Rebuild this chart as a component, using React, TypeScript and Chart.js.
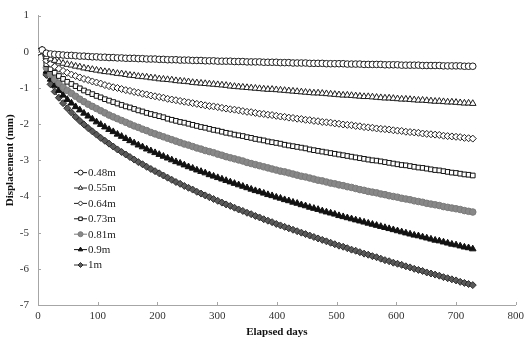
import React, { useEffect, useRef } from 'react';
import { Chart, registerables } from 'chart.js';
import { drawPoint } from 'chart.js/helpers';

Chart.register(...registerables);

const days = [0, 7, 14, 21, 28, 35, 42, 49, 56, 63, 70, 77, 84, 91, 98, 105, 112, 119, 126, 133, 140, 147, 154, 161, 168, 175, 182, 189, 196, 203, 210, 217, 224, 231, 238, 245, 252, 259, 266, 273, 280, 287, 294, 301, 308, 315, 322, 329, 336, 343, 350, 357, 364, 371, 378, 385, 392, 399, 406, 413, 420, 427, 434, 441, 448, 455, 462, 469, 476, 483, 490, 497, 504, 511, 518, 525, 532, 539, 546, 553, 560, 567, 574, 581, 588, 595, 602, 609, 616, 623, 630, 637, 644, 651, 658, 665, 672, 679, 686, 693, 700, 707, 714, 721, 728];

const d048 = [0, 0.05,
  -0.04, -0.06, -0.07, -0.08, -0.09, -0.10, -0.10, -0.11, -0.12, -0.12,
  -0.13, -0.14, -0.14, -0.15, -0.15, -0.16, -0.16, -0.17, -0.17, -0.18,
  -0.18, -0.18, -0.19, -0.19, -0.20, -0.20, -0.20, -0.21, -0.21, -0.22,
  -0.22, -0.22, -0.23, -0.23, -0.23, -0.24, -0.24, -0.24, -0.25, -0.25,
  -0.25, -0.26, -0.26, -0.26, -0.26, -0.27, -0.27, -0.27, -0.28, -0.28,
  -0.28, -0.28, -0.29, -0.29, -0.29, -0.29, -0.30, -0.30, -0.30, -0.31,
  -0.31, -0.31, -0.31, -0.32, -0.32, -0.32, -0.32, -0.33, -0.33, -0.33,
  -0.33, -0.33, -0.34, -0.34, -0.34, -0.34, -0.35, -0.35, -0.35, -0.35,
  -0.35, -0.36, -0.36, -0.36, -0.36, -0.37, -0.37, -0.37, -0.37, -0.37,
  -0.38, -0.38, -0.38, -0.38, -0.38, -0.39, -0.39, -0.39, -0.39, -0.39,
  -0.40, -0.40, -0.40];
const d055 = [0, 0.05,
  -0.14, -0.20, -0.24, -0.28, -0.32, -0.35, -0.37, -0.40, -0.42, -0.45,
  -0.47, -0.49, -0.51, -0.53, -0.55, -0.56, -0.58, -0.60, -0.61, -0.63,
  -0.65, -0.66, -0.68, -0.69, -0.70, -0.72, -0.73, -0.75, -0.76, -0.77,
  -0.78, -0.80, -0.81, -0.82, -0.83, -0.85, -0.86, -0.87, -0.88, -0.89,
  -0.90, -0.91, -0.92, -0.93, -0.95, -0.96, -0.97, -0.98, -0.99, -1.00,
  -1.01, -1.02, -1.03, -1.04, -1.04, -1.05, -1.06, -1.07, -1.08, -1.09,
  -1.10, -1.11, -1.12, -1.13, -1.14, -1.14, -1.15, -1.16, -1.17, -1.18,
  -1.19, -1.20, -1.20, -1.21, -1.22, -1.23, -1.24, -1.24, -1.25, -1.26,
  -1.27, -1.28, -1.28, -1.29, -1.30, -1.31, -1.31, -1.32, -1.33, -1.34,
  -1.34, -1.35, -1.36, -1.37, -1.37, -1.38, -1.39, -1.39, -1.40, -1.41,
  -1.42, -1.42, -1.43];
const d064 = [0, 0.05,
  -0.24, -0.33, -0.41, -0.47, -0.53, -0.58, -0.63, -0.67, -0.71, -0.75,
  -0.78, -0.82, -0.85, -0.88, -0.92, -0.95, -0.98, -1.00, -1.03, -1.06,
  -1.08, -1.11, -1.13, -1.16, -1.18, -1.21, -1.23, -1.25, -1.27, -1.30,
  -1.32, -1.34, -1.36, -1.38, -1.40, -1.42, -1.44, -1.46, -1.48, -1.50,
  -1.51, -1.53, -1.55, -1.57, -1.59, -1.60, -1.62, -1.64, -1.66, -1.67,
  -1.69, -1.71, -1.72, -1.74, -1.75, -1.77, -1.79, -1.80, -1.82, -1.83,
  -1.85, -1.86, -1.88, -1.89, -1.91, -1.92, -1.94, -1.95, -1.96, -1.98,
  -1.99, -2.01, -2.02, -2.03, -2.05, -2.06, -2.08, -2.09, -2.10, -2.12,
  -2.13, -2.14, -2.15, -2.17, -2.18, -2.19, -2.21, -2.22, -2.23, -2.24,
  -2.26, -2.27, -2.28, -2.29, -2.30, -2.32, -2.33, -2.34, -2.35, -2.36,
  -2.38, -2.39, -2.40];
const d073 = [0, 0.04,
  -0.34, -0.48, -0.58, -0.67, -0.75, -0.83, -0.89, -0.95, -1.01, -1.07,
  -1.12, -1.17, -1.22, -1.26, -1.31, -1.35, -1.39, -1.43, -1.47, -1.51,
  -1.54, -1.58, -1.62, -1.65, -1.69, -1.72, -1.75, -1.78, -1.81, -1.85,
  -1.88, -1.91, -1.94, -1.96, -1.99, -2.02, -2.05, -2.08, -2.10, -2.13,
  -2.16, -2.18, -2.21, -2.24, -2.26, -2.29, -2.31, -2.33, -2.36, -2.38,
  -2.41, -2.43, -2.45, -2.48, -2.50, -2.52, -2.54, -2.57, -2.59, -2.61,
  -2.63, -2.65, -2.67, -2.70, -2.72, -2.74, -2.76, -2.78, -2.80, -2.82,
  -2.84, -2.86, -2.88, -2.90, -2.92, -2.94, -2.96, -2.98, -3.00, -3.01,
  -3.03, -3.05, -3.07, -3.09, -3.11, -3.13, -3.14, -3.16, -3.18, -3.20,
  -3.21, -3.23, -3.25, -3.27, -3.28, -3.30, -3.32, -3.34, -3.35, -3.37,
  -3.39, -3.40, -3.42];
const d081 = [0, 0.03,
  -0.44, -0.62, -0.76, -0.87, -0.98, -1.07, -1.15, -1.23, -1.31, -1.38,
  -1.45, -1.51, -1.57, -1.63, -1.69, -1.75, -1.80, -1.85, -1.90, -1.95,
  -2.00, -2.05, -2.09, -2.14, -2.18, -2.23, -2.27, -2.31, -2.35, -2.39,
  -2.43, -2.47, -2.51, -2.55, -2.58, -2.62, -2.66, -2.69, -2.73, -2.76,
  -2.79, -2.83, -2.86, -2.90, -2.93, -2.96, -2.99, -3.02, -3.06, -3.09,
  -3.12, -3.15, -3.18, -3.21, -3.24, -3.27, -3.30, -3.32, -3.35, -3.38,
  -3.41, -3.44, -3.46, -3.49, -3.52, -3.55, -3.57, -3.60, -3.63, -3.65,
  -3.68, -3.70, -3.73, -3.75, -3.78, -3.81, -3.83, -3.86, -3.88, -3.90,
  -3.93, -3.95, -3.98, -4.00, -4.02, -4.05, -4.07, -4.09, -4.12, -4.14,
  -4.16, -4.19, -4.21, -4.23, -4.25, -4.28, -4.30, -4.32, -4.34, -4.36,
  -4.39, -4.41, -4.43];
const d090 = [0, 0.03,
  -0.54, -0.76, -0.93, -1.07, -1.20, -1.32, -1.42, -1.52, -1.61, -1.70,
  -1.78, -1.86, -1.94, -2.01, -2.08, -2.15, -2.21, -2.28, -2.34, -2.40,
  -2.46, -2.52, -2.58, -2.63, -2.69, -2.74, -2.79, -2.84, -2.89, -2.94,
  -2.99, -3.04, -3.08, -3.13, -3.18, -3.22, -3.27, -3.31, -3.35, -3.40,
  -3.44, -3.48, -3.52, -3.56, -3.60, -3.64, -3.68, -3.72, -3.76, -3.80,
  -3.84, -3.87, -3.91, -3.95, -3.98, -4.02, -4.05, -4.09, -4.12, -4.16,
  -4.19, -4.23, -4.26, -4.30, -4.33, -4.36, -4.40, -4.43, -4.46, -4.49,
  -4.53, -4.56, -4.59, -4.62, -4.65, -4.68, -4.71, -4.74, -4.77, -4.80,
  -4.83, -4.86, -4.89, -4.92, -4.95, -4.98, -5.01, -5.04, -5.07, -5.09,
  -5.12, -5.15, -5.18, -5.21, -5.23, -5.26, -5.29, -5.32, -5.34, -5.37,
  -5.40, -5.42, -5.45];
const d100 = [0, 0.02,
  -0.64, -0.90, -1.10, -1.27, -1.42, -1.56, -1.68, -1.80, -1.91, -2.01,
  -2.11, -2.20, -2.29, -2.38, -2.46, -2.54, -2.62, -2.70, -2.77, -2.84,
  -2.91, -2.98, -3.05, -3.11, -3.18, -3.24, -3.30, -3.36, -3.42, -3.48,
  -3.54, -3.60, -3.65, -3.71, -3.76, -3.81, -3.87, -3.92, -3.97, -4.02,
  -4.07, -4.12, -4.17, -4.22, -4.26, -4.31, -4.36, -4.40, -4.45, -4.49,
  -4.54, -4.58, -4.63, -4.67, -4.71, -4.76, -4.80, -4.84, -4.88, -4.92,
  -4.96, -5.00, -5.04, -5.08, -5.12, -5.16, -5.20, -5.24, -5.28, -5.32,
  -5.36, -5.39, -5.43, -5.47, -5.50, -5.54, -5.58, -5.61, -5.65, -5.68,
  -5.72, -5.76, -5.79, -5.83, -5.86, -5.89, -5.93, -5.96, -6.00, -6.03,
  -6.06, -6.10, -6.13, -6.16, -6.19, -6.23, -6.26, -6.29, -6.32, -6.36,
  -6.39, -6.42, -6.45];

const seriesNames = ['0.48m', '0.55m', '0.64m', '0.73m', '0.81m', '0.9m', '1m'];
const seriesValues = [d048, d055, d064, d073, d081, d090, d100];

const styles = [
  { pointStyle: 'circle', fill: '#ffffff', stroke: '#1e1e1e', line: '#1e1e1e', radius: 3.3 },
  { pointStyle: 'triangle', fill: '#ffffff', stroke: '#1e1e1e', line: '#1e1e1e', radius: 3.8 },
  { pointStyle: 'rectRot', fill: '#ffffff', stroke: '#1e1e1e', line: '#1e1e1e', radius: 3.5 },
  { pointStyle: 'rect', fill: '#ffffff', stroke: '#111111', line: '#111111', radius: 3.3 },
  { pointStyle: 'circle', fill: '#888888', stroke: '#7a7a7a', line: '#7a7a7a', radius: 3.3 },
  { pointStyle: 'triangle', fill: '#111111', stroke: '#111111', line: '#111111', radius: 3.8 },
  { pointStyle: 'rectRot', fill: '#5a5a5a', stroke: '#2e2e2e', line: '#2e2e2e', radius: 3.5 },
];

const FONT = '"Liberation Serif", "Times New Roman", serif';

const insideTicks = {
  id: 'insideTicks',
  afterDraw(chart: any) {
    const { ctx, chartArea, scales } = chart;
    ctx.save();
    ctx.strokeStyle = '#a6a6a6';
    ctx.lineWidth = 1;
    scales.y.ticks.forEach((t: any) => {
      const y = Math.round(scales.y.getPixelForValue(t.value)) + 0.5;
      ctx.beginPath();
      ctx.moveTo(chartArea.left, y);
      ctx.lineTo(chartArea.left + 3, y);
      ctx.stroke();
    });
    scales.x.ticks.forEach((t: any) => {
      const x = Math.round(scales.x.getPixelForValue(t.value)) + 0.5;
      ctx.beginPath();
      ctx.moveTo(x, chartArea.bottom);
      ctx.lineTo(x, chartArea.bottom - 3);
      ctx.stroke();
    });
    ctx.restore();
  },
};

const innerLegend = {
  id: 'innerLegend',
  afterDraw(chart: any) {
    const { ctx, chartArea } = chart;
    const x0 = chartArea.left + 36;
    const y0 = chartArea.top + 157;
    const step = 15.4;
    ctx.save();
    ctx.font = '11px ' + FONT;
    ctx.textBaseline = 'middle';
    ctx.textAlign = 'left';
    seriesNames.forEach((name, i) => {
      const s = styles[i];
      const y = y0 + i * step;
      ctx.strokeStyle = s.line;
      ctx.lineWidth = 1;
      ctx.beginPath();
      ctx.moveTo(x0, y);
      ctx.lineTo(x0 + 13, y);
      ctx.stroke();
      ctx.fillStyle = s.fill;
      ctx.strokeStyle = s.stroke;
      drawPoint(ctx, { pointStyle: s.pointStyle as any, radius: 2.5, rotation: 0, borderWidth: 1 } as any, x0 + 6.5, y);
      ctx.fillStyle = '#222222';
      ctx.fillText(name, x0 + 14, y + 0.5);
    });
    ctx.restore();
  },
};

export default function App() {
  const ref = useRef<HTMLCanvasElement | null>(null);

  useEffect(() => {
    const canvas = ref.current;
    if (!canvas) return;
    const datasets = seriesNames.map((name, i) => ({
      label: name,
      data: days.map((d, j) => ({ x: d, y: seriesValues[i][j] })),
      borderColor: styles[i].line,
      borderWidth: 1,
      backgroundColor: styles[i].fill,
      pointStyle: styles[i].pointStyle as any,
      pointRadius: styles[i].radius,
      pointBorderWidth: 1,
      pointBorderColor: styles[i].stroke,
      pointBackgroundColor: styles[i].fill,
      fill: false,
      tension: 0,
    }));
    const chart = new Chart(canvas, {
      type: 'line',
      data: { datasets },
      options: {
        animation: false,
        responsive: false,
        devicePixelRatio: 1,
        layout: { padding: { top: 9, right: 13, left: 0, bottom: 0 } },
        plugins: { legend: { display: false }, tooltip: { enabled: false } },
        scales: {
          x: {
            type: 'linear',
            min: 0,
            max: 800,
            ticks: { stepSize: 100, color: '#333333', font: { family: FONT, size: 11 }, padding: 5, maxRotation: 0 },
            grid: { display: true, drawOnChartArea: false, drawTicks: false },
            border: { display: true, color: '#a6a6a6' },
            title: { display: true, text: 'Elapsed days', color: '#111111', font: { family: FONT, size: 11, weight: 'bold' }, padding: { top: 2, bottom: 4 } },
            afterFit: (scale: any) => { scale.height = 38; },
          },
          y: {
            type: 'linear',
            min: -7,
            max: 1,
            ticks: { stepSize: 1, color: '#333333', font: { family: FONT, size: 11 }, padding: 9 },
            grid: { display: true, drawOnChartArea: false, drawTicks: false },
            border: { display: true, color: '#a6a6a6' },
            title: { display: true, text: 'Displacement (mm)', color: '#111111', font: { family: FONT, size: 11, weight: 'bold' }, padding: { top: 4, bottom: 2 } },
            afterFit: (scale: any) => { scale.width = 38; },
          },
        },
      },
      plugins: [insideTicks, innerLegend],
    });
    return () => chart.destroy();
  }, []);

  return (
    <div style={{ position: 'fixed', left: 0, top: 0, width: 529, height: 343, background: '#ffffff' }}>
      <canvas ref={ref} width={529} height={343} style={{ display: 'block' }} />
    </div>
  );
}
